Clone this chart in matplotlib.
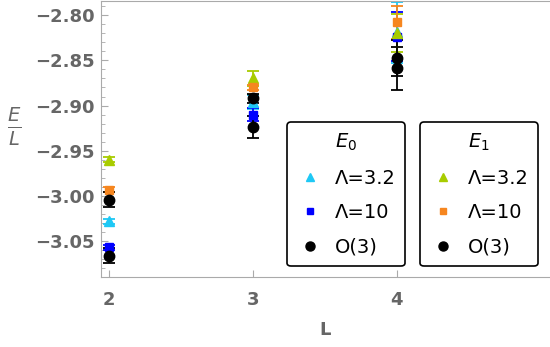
import matplotlib
matplotlib.use('Agg')
import matplotlib.pyplot as plt
from matplotlib.lines import Line2D
from matplotlib.ticker import MultipleLocator

plt.rcParams['font.family'] = ['DejaVu Sans']
plt.rcParams['mathtext.fontset'] = 'dejavusans'

# data
L = [2, 3, 4]

e0_lam32 = [-3.028, -2.896, -2.819]
e0_lam32_err = [0.003, 0.008, 0.034]
e0_lam10 = [-3.057, -2.910, -2.824]
e0_lam10_err = [0.003, 0.007, 0.027]
e0_o3 = [-3.066, -2.924, -2.859]
e0_o3_err = [0.008, 0.012, 0.024]

e1_lam32 = [-2.960, -2.870, -2.820]
e1_lam32_err = [0.003, 0.008, 0.021]
e1_lam10 = [-2.993, -2.880, -2.808]
e1_lam10_err = [0.003, 0.003, 0.018]
e1_o3 = [-3.004, -2.892, -2.847]
e1_o3_err = [0.008, 0.005, 0.020]

legend_labels = ['\u039b=3.2', '\u039b=10', 'O(3)']

CYAN = '#1ec8f5'
BLUE = '#0000ff'
LIME = '#a8cc00'
ORANGE = '#f6861f'
GRAY = '#666666'

fig = plt.figure(figsize=(5.5, 3.47), dpi=100)
ax = fig.add_axes([0.183, 0.2017, 0.815, 0.795])

series = [
    (e0_lam32, e0_lam32_err, CYAN, '^', 6.5),
    (e0_lam10, e0_lam10_err, BLUE, 's', 5.5),
    (e0_o3, e0_o3_err, 'black', 'o', 7.5),
    (e1_lam32, e1_lam32_err, LIME, '^', 6.5),
    (e1_lam10, e1_lam10_err, ORANGE, 's', 5.5),
    (e1_o3, e1_o3_err, 'black', 'o', 7.5),
]
for vals, errs, col, mk, ms in series:
    ax.errorbar(L, vals, yerr=errs, fmt=mk, color=col, ms=ms, capsize=4.3,
                elinewidth=1.3, capthick=1.3)

ax.set_xlim(1.942, 5.056)
ax.set_ylim(-3.0897, -2.7845)
ax.set_xticks([2, 3, 4])
ax.yaxis.set_major_locator(MultipleLocator(0.05))
ax.yaxis.set_minor_locator(MultipleLocator(0.01))
ax.set_yticklabels([f'\u2212{abs(v):.2f}' if v < 0 else f'{v:.2f}' for v in ax.get_yticks()])

for s in ['left', 'bottom', 'top']:
    ax.spines[s].set_color('#aaaaaa')
ax.spines['right'].set_visible(False)
ax.tick_params(which='both', direction='in', color='#aaaaaa', labelcolor=GRAY,
               labelsize=13)
ax.tick_params(which='major', length=5)
ax.tick_params(which='minor', length=3)
ax.tick_params(axis='x', pad=10)
ax.tick_params(axis='y', pad=4)
for lab in ax.get_xticklabels() + ax.get_yticklabels():
    lab.set_fontweight('bold')

ax.set_xlabel('L', fontsize=13, fontweight='bold', color=GRAY, labelpad=9)
fig.text(0.026, 0.634, r'$\frac{E}{L}$', fontsize=20, color=GRAY, ha='center', va='center')

def make_legend(cols, title, anchor):
    handles = [
        Line2D([], [], ls='none'),
        Line2D([], [], ls='none', marker='^', color=cols[0], ms=6),
        Line2D([], [], ls='none', marker='s', color=cols[1], ms=5),
        Line2D([], [], ls='none', marker='o', color='black', ms=6.5),
    ]
    leg = fig.legend(handles, [title] + legend_labels,
                     loc='upper left', bbox_to_anchor=anchor, fontsize=14,
                     frameon=True, fancybox=True,
                     edgecolor='black', framealpha=1, borderaxespad=0,
                     handletextpad=0.55, labelspacing=0.8, borderpad=0.5,
                     handlelength=1.4)
    leg.get_frame().set_linewidth(1.2)
    return leg

make_legend([CYAN, BLUE], '$E_0$', (0.5218, 0.6484))
make_legend([LIME, ORANGE], '$E_1$', (0.7636, 0.6484))

fig.savefig('out.png', dpi=100)
